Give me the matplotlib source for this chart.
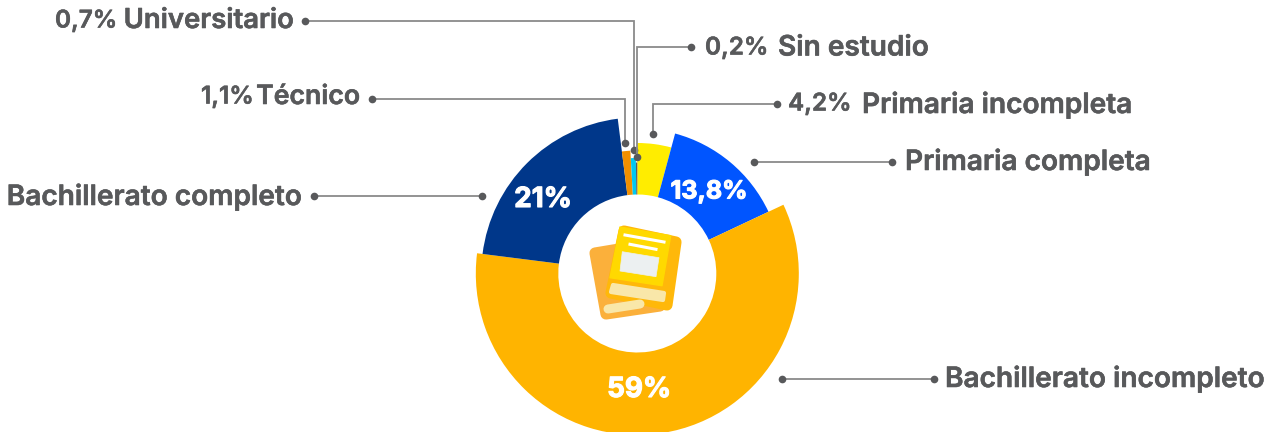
import matplotlib
matplotlib.use('Agg')
import matplotlib.pyplot as plt
from matplotlib.patches import Wedge, Polygon
import matplotlib.patheffects as pe

# share of each education level, clockwise from 12 o'clock
levels = ['Primaria incompleta', 'Primaria completa', 'Bachillerato incompleto',
          'Bachillerato completo', 'Técnico', 'Universitario', 'Sin estudio']
shares = [4.2, 13.8, 59, 21, 1.1, 0.7, 0.2]
share_labels = ['4,2%', '13,8%', '59%', '21%', '1,1%', '0,7%', '0,2%']

colors = ['#FFED00', '#0055FF', '#FFB400', '#00378A', '#F18F00', '#00C8F0', '#58595B']
radii = [130.5, 145, 161.5, 156, 123, 115.5, 111]

TEXT = '#58595B'
LINE = '#8A8A8A'
cx, cy, hole = 637.3, 273.5, 79

plt.rcParams['font.family'] = ['Inter', 'Open Sans', 'DejaVu Sans']

fig = plt.figure(figsize=(12.75, 4.32), dpi=100)
ax = fig.add_axes([0, 0, 1, 1])
ax.set_xlim(0, 1275)
ax.set_ylim(432, 0)
ax.axis('off')

# y axis is inverted so growing angles run clockwise on screen
start = -90
for share, color, r in zip(shares, colors, radii):
    end = start + share * 3.6
    ax.add_patch(Wedge((cx, cy), r, start, end, width=r - hole, fc=color, ec='none'))
    start = end

heavy = [pe.withStroke(linewidth=0.8, foreground='white')]
ax.text(543, 200, share_labels[3], color='white', fontsize=20, fontweight='bold', ha='center', va='center', path_effects=heavy)
ax.text(709, 192, share_labels[1], color='white', fontsize=18, fontweight='bold', ha='center', va='center', path_effects=heavy)
ax.text(639, 390, share_labels[2], color='white', fontsize=20, fontweight='bold', ha='center', va='center', path_effects=heavy)


def leader(points):
    xs = [p[0] for p in points]
    ys = [p[1] for p in points]
    ax.plot(xs, ys, color=LINE, lw=1.3, solid_joinstyle='miter')
    ax.plot([xs[0], xs[-1]], [ys[0], ys[-1]], 'o', color=TEXT, ms=5.5, mec='none')


leader([(305, 21), (634, 21), (634, 150)])
leader([(691, 47), (637, 47), (637, 157)])
leader([(777, 104), (653, 104), (653, 134)])
leader([(892, 162), (754, 162)])
leader([(372, 99), (625, 99), (625, 143)])
leader([(314, 196), (482, 196)])
leader([(934, 379), (782, 379)])

thick = [pe.withStroke(linewidth=0.4, foreground=TEXT)]
name_style = dict(color=TEXT, fontsize=20.2, fontweight='semibold', va='center', path_effects=thick)
pct_style = dict(color=TEXT, fontsize=17.5, fontweight='semibold', va='center', path_effects=thick)
ax.text(55, 21, share_labels[5], ha='left', **pct_style)
ax.text(294, 21, levels[5], ha='right', **{**name_style, 'fontsize': 19.8})
ax.text(705, 48, share_labels[6], ha='left', **pct_style)
ax.text(778, 48, levels[6], ha='left', **name_style)
ax.text(788, 104, share_labels[0], ha='left', **pct_style)
ax.text(862, 105, levels[0], ha='left', **name_style)
ax.text(905, 162, levels[1], ha='left', **name_style)
ax.text(201, 97, share_labels[4], ha='left', **pct_style)
ax.text(360, 97, levels[4], ha='right', **{**name_style, 'fontsize': 19.2})
ax.text(302, 197, levels[3], ha='right', **name_style)
ax.text(945, 379, levels[2], ha='left', **name_style)


def shape(points, color, edge=3):
    ax.add_patch(Polygon(points, closed=True, fc=color, ec=color, lw=edge, joinstyle='round'))


# book icon in the hole
shape([(595, 253), (625, 248), (660, 306), (606, 314)], '#FBB03B', 8)
ax.plot([608, 640], [309, 304], color='#F9E7A9', lw=6.5, solid_capstyle='round')
shape([(624, 231), (676, 242), (667, 305), (611, 293)], '#FFB80A', 8)
shape([(620, 227), (670.7, 235.7), (662, 285.7), (610, 277.7)], '#FFD900', 1)
shape([(613, 285), (664, 293), (663, 300), (611, 292)], '#F9E7A9', 3)
shape([(622.3, 251.7), (659, 257.7), (656, 276.7), (620, 271)], '#ECF0F1', 0.5)
ax.plot([625, 664], [235, 242], color='white', lw=2.2)
ax.plot([630, 656], [244.3, 249.3], color='white', lw=2.2)

fig.savefig('out.png', dpi=100)
